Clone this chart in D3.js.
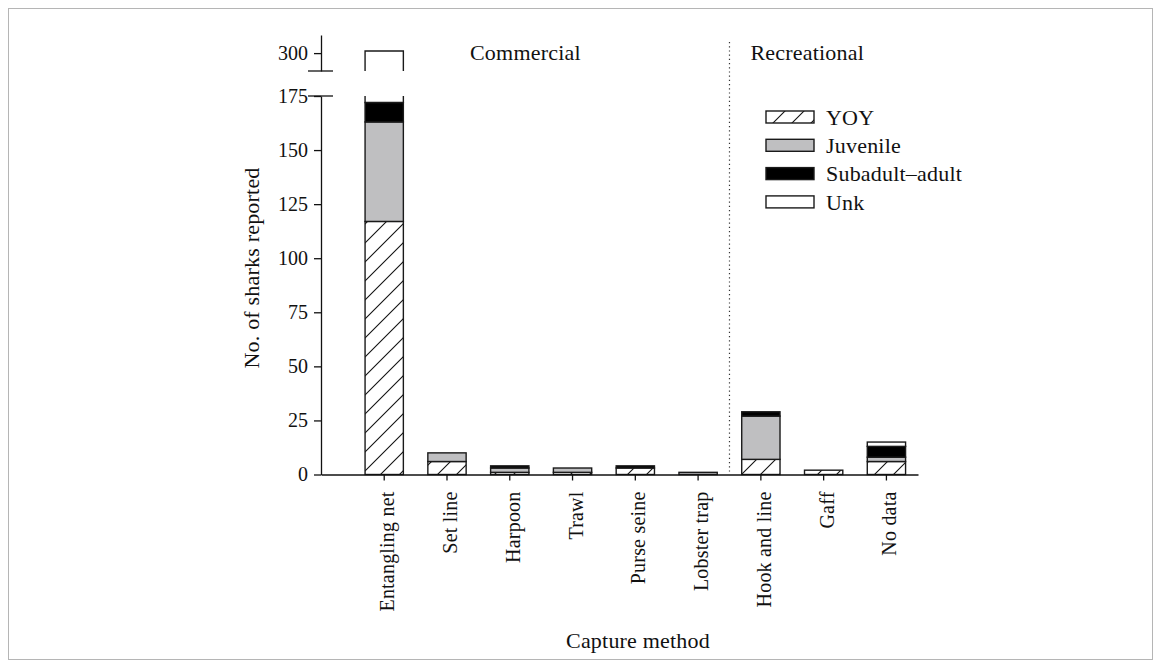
<!doctype html>
<meta charset="utf-8">
<style>
 body { margin: 0; background: #fff; }
 svg text { font-family: "Liberation Serif", "Times New Roman", serif; fill: #111; }
 .axis text { font-size: 20px; }
 .axis path, .axis line { stroke: #111; stroke-width: 1.3px; }
 .lbl { font-size: 22px; letter-spacing: 0.2px; }
</style>
<svg width="1161" height="668"></svg>
<script src="https://d3js.org/d3.v7.min.js"></script>
<script>
 // Data
 var categories = ["Entangling net", "Set line", "Harpoon", "Trawl", "Purse seine",
                   "Lobster trap", "Hook and line", "Gaff", "No data"];
 var yoy       = [117, 6, 1, 1, 3, 0, 7, 2, 6];
 var juvenile  = [46, 4, 2, 2, 0, 1, 20, 0, 2];
 var subadult  = [9, 0, 1, 0, 1, 0, 2, 0, 5];
 var unknown   = [129, 0, 0, 0, 0, 0, 0, 0, 2];
 var stages    = ["YOY", "Juvenile", "Subadult\u2013adult", "Unk"];
 var lowerTicks = [0, 25, 50, 75, 100, 125, 150, 175];
 var upperTicks = [300];

 var rows = categories.map(function(c, i) {
   return {cat: c, "YOY": yoy[i], "Juvenile": juvenile[i],
           "Subadult\u2013adult": subadult[i], "Unk": unknown[i]};
 });
 var series = d3.stack().keys(stages)(rows);

 var svg = d3.select("svg");
 var defs = svg.append("defs");
 var pat = defs.append("pattern")
   .attr("id", "hatch").attr("patternUnits", "userSpaceOnUse")
   .attr("width", 19).attr("height", 19);
 pat.append("rect").attr("width", 19).attr("height", 19).attr("fill", "#fff");
 pat.append("path").attr("d", "M0,19L19,0M-3,3L3,-3M16,22L22,16")
   .attr("stroke", "#111").attr("stroke-width", 1.1);

 var fills = {"YOY": "url(#hatch)", "Juvenile": "#bfbfc1",
              "Subadult\u2013adult": "#000", "Unk": "#fff"};

 // frame
 svg.append("rect").attr("x", 8.5).attr("y", 8.5).attr("width", 1144).attr("height", 651)
   .attr("fill", "none").attr("stroke", "#b5b5b5");

 var axisX = 321;
 var x = d3.scaleBand().domain(categories).range([axisX, 918])
   .paddingInner(0.39).paddingOuter(0.45).align(0.78);
 var yLow = d3.scaleLinear().domain([0, 175]).range([474.5, 96]);
 var yUp = d3.scaleLinear().domain([291.7, 308.4]).range([71, 35]);
 var breakLow = 175, breakUp = 291.7;

 // bars
 var stroke = "#1a1a1a";
 series.forEach(function(s) {
   s.forEach(function(d) {
     var v0 = d[0], v1 = d[1];
     if (v1 - v0 <= 0) return;
     var bx = x(d.data.cat), bw = x.bandwidth();
     if (v1 <= breakLow) {
       svg.append("rect").attr("x", bx).attr("y", yLow(v1))
         .attr("width", bw).attr("height", yLow(v0) - yLow(v1))
         .attr("fill", fills[s.key]).attr("stroke", stroke).attr("stroke-width", 1.4);
     } else {
       // lower piece, open at top
       var t = yLow(breakLow), b = yLow(v0);
       svg.append("rect").attr("x", bx).attr("y", t).attr("width", bw).attr("height", b - t)
         .attr("fill", fills[s.key]);
       svg.append("path").attr("d", "M" + bx + "," + t + "V" + b + "H" + (bx + bw) + "V" + t)
         .attr("fill", "none").attr("stroke", stroke).attr("stroke-width", 1.4);
       // upper piece, open at bottom
       var t2 = yUp(v1), b2 = yUp(Math.max(v0, breakUp));
       svg.append("rect").attr("x", bx).attr("y", t2).attr("width", bw).attr("height", b2 - t2)
         .attr("fill", fills[s.key]);
       svg.append("path").attr("d", "M" + bx + "," + b2 + "V" + t2 + "H" + (bx + bw) + "V" + b2)
         .attr("fill", "none").attr("stroke", stroke).attr("stroke-width", 1.4);
     }
   });
 });

 // axes
 svg.append("g").attr("class", "axis").attr("transform", "translate(" + axisX + ",0)")
   .call(d3.axisLeft(yLow).tickValues(lowerTicks).tickSize(7).tickSizeOuter(0).tickPadding(6));
 svg.append("g").attr("class", "axis").attr("transform", "translate(" + axisX + ",0)")
   .call(d3.axisLeft(yUp).tickValues(upperTicks).tickSize(7).tickSizeOuter(0).tickPadding(6));
 [yLow(breakLow), yUp(breakUp)].forEach(function(yy) {
   svg.append("line").attr("x1", axisX - 13).attr("x2", axisX + 12)
     .attr("y1", yy).attr("y2", yy).attr("stroke", "#111").attr("stroke-width", 1.3);
 });
 svg.selectAll(".axis .domain").attr("fill", "none");

 var gx = svg.append("g").attr("class", "axis").attr("transform", "translate(0," + yLow(0) + ")")
   .call(d3.axisBottom(x).tickSize(6).tickSizeOuter(0));
 gx.selectAll("text").attr("class", "lbl")
   .attr("text-anchor", "end")
   .attr("transform", "translate(4,17) rotate(-90)")
   .attr("x", 0).attr("y", 0).attr("dy", "0.3em");

 // divider
 var divX = (x("Lobster trap") + x("Hook and line")) / 2 + x.bandwidth() / 2;
 svg.append("line").attr("x1", divX).attr("x2", divX).attr("y1", 42).attr("y2", yLow(0) - 2)
   .attr("stroke", "#333").attr("stroke-width", 1.2).attr("stroke-dasharray", "1.2,3");

 svg.append("text").attr("class", "lbl").attr("x", 470).attr("y", 60).text("Commercial");
 svg.append("text").attr("class", "lbl").attr("x", divX + 21).attr("y", 60).text("Recreational");

 // axis titles
 svg.append("text").attr("class", "lbl").attr("text-anchor", "middle")
   .attr("transform", "translate(259,268) rotate(-90)").text("No. of sharks reported");
 svg.append("text").attr("class", "lbl").attr("text-anchor", "middle")
   .attr("x", 638).attr("y", 648).text("Capture method");

 // legend
 var lg = svg.append("g").attr("transform", "translate(766,111)");
 stages.forEach(function(k, i) {
   var g = lg.append("g").attr("transform", "translate(0," + (i * 28.3) + ")");
   g.append("rect").attr("width", 48).attr("height", 12)
     .attr("fill", fills[k]).attr("stroke", stroke).attr("stroke-width", 1.4);
   g.append("text").attr("class", "lbl").attr("x", 60).attr("y", 6).attr("dy", "0.35em").text(k);
 });
</script>
